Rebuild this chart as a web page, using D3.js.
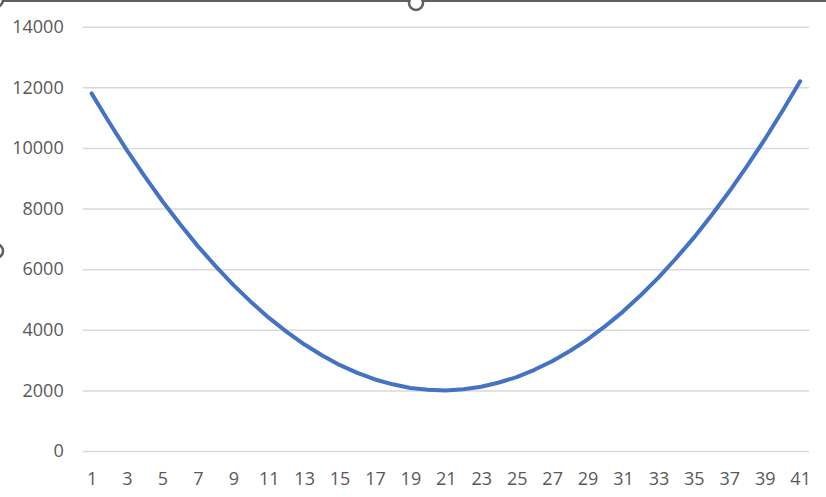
<!DOCTYPE html>
<html>
<head>
<meta charset="utf-8">
<script src="https://cdn.jsdelivr.net/npm/d3@7"></script>
<style>
  body { margin: 0; background: #fff; }
  svg { display: block; }
  .tick text { font-family: "Open Sans", sans-serif; font-size: 18px; fill: #595959; }
</style>
</head>
<body>
<svg id="chart" width="826" height="497"></svg>
<script>
// categories 1..41 and the series
const categories = d3.range(1, 42).map(String);
const values = [
  11800, 10840, 9920, 9060, 8240, 7480, 6760, 6100, 5480, 4920,
  4400, 3940, 3520, 3160, 2840, 2580, 2360, 2200, 2080, 2020,
  2000, 2040, 2120, 2260, 2440, 2680, 2960, 3300, 3680, 4120,
  4600, 5140, 5720, 6360, 7040, 7780, 8560, 9400, 10280, 11220,
  12200
];
const yTicks = [0, 2000, 4000, 6000, 8000, 10000, 12000, 14000];
const xTickLabels = categories.filter((d, i) => i % 2 === 0);

const svg = d3.select("svg#chart");

const plot = { left: 82.7, right: 809, top: 26.7, bottom: 451 };

const x = d3.scalePoint()
  .domain(categories)
  .range([plot.left, plot.right])
  .padding(0.5);

const y = d3.scaleLinear()
  .domain([0, 14000])
  .range([plot.bottom, plot.top]);

// horizontal gridlines + y labels
const yAxis = svg.append("g")
  .attr("transform", translate(plot.left, 0))
  .call(d3.axisLeft(y)
    .tickValues(yTicks)
    .tickSize(-(plot.right - plot.left))
    .tickPadding(19)
    .tickFormat(d3.format("d")));
yAxis.select(".domain").remove();
yAxis.selectAll(".tick line")
  .attr("stroke", "#d9d9d9")
  .attr("stroke-width", 1.5);

// x labels (every other category)
const xAxis = svg.append("g")
  .attr("transform", translate(0, plot.bottom))
  .call(d3.axisBottom(x)
    .tickValues(xTickLabels)
    .tickSize(0)
    .tickPadding(21));
xAxis.select(".domain").remove();

// the series line
const line = d3.line()
  .x((d, i) => x(categories[i]))
  .y(d => y(d));

svg.append("path")
  .datum(values)
  .attr("d", line)
  .attr("fill", "none")
  .attr("stroke", "#4472c4")
  .attr("stroke-width", 4)
  .attr("stroke-linecap", "round")
  .attr("stroke-linejoin", "round");

// selection frame and handles from the screenshot
svg.append("line")
  .attr("x1", 0).attr("x2", 826)
  .attr("y1", 1).attr("y2", 1)
  .attr("stroke", "#5f5f5f")
  .attr("stroke-width", 2);

const handles = [[-4, 0], [416, 3], [-4, 251]];
svg.selectAll("circle.handle")
  .data(handles)
  .enter()
  .append("circle")
  .attr("class", "handle")
  .attr("cx", d => d[0])
  .attr("cy", d => d[1])
  .attr("r", 7)
  .attr("fill", "#fff")
  .attr("stroke", "#5f5f5f")
  .attr("stroke-width", 2.5);

function translate(x, y) {
  return "translate(" + String(x) + "," + String(y) + ")";
}
</script>
</body>
</html>
